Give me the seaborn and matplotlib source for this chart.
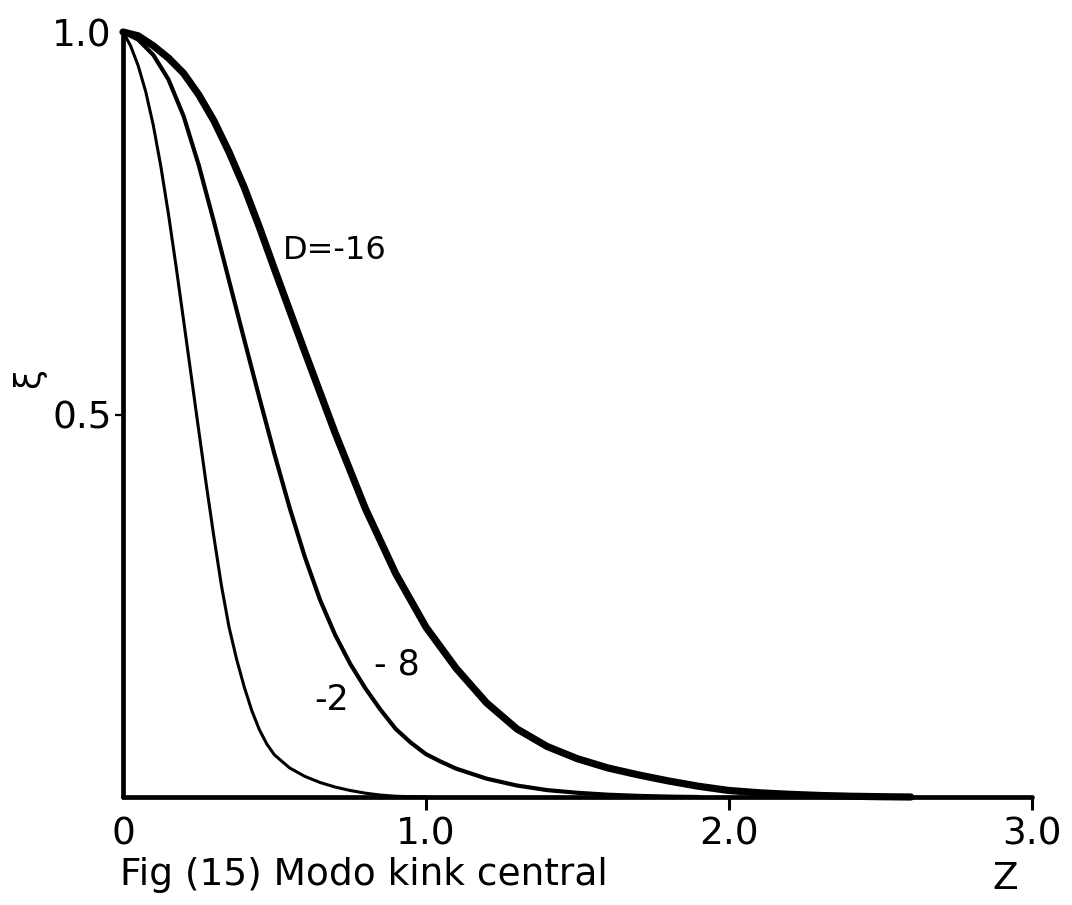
import numpy as np
import pandas as pd
import matplotlib
matplotlib.use("Agg")
import matplotlib.pyplot as plt
import seaborn as sns

# Radial profiles of the central kink mode for three values of D
z_d2 = [0, 0.025, 0.05, 0.075, 0.10, 0.125, 0.15, 0.175, 0.20, 0.225, 0.25, 0.275,
        0.30, 0.325, 0.35, 0.375, 0.40, 0.425, 0.45, 0.475, 0.50, 0.55, 0.60, 0.65,
        0.70, 0.75, 0.80, 0.85, 0.90, 0.95, 1.0]
psi_d2 = [1.0, 0.982, 0.956, 0.922, 0.878, 0.824, 0.762, 0.694, 0.623, 0.551, 0.479, 0.408,
          0.340, 0.276, 0.222, 0.180, 0.144, 0.113, 0.088, 0.069, 0.055, 0.038, 0.027, 0.019,
          0.013, 0.0085, 0.005, 0.0025, 0.001, 0.0003, 0.0]

z_d8 = [0, 0.05, 0.10, 0.15, 0.20, 0.25, 0.30, 0.35, 0.40, 0.45, 0.50, 0.55, 0.60, 0.65,
        0.70, 0.75, 0.80, 0.85, 0.90, 0.95, 1.00, 1.05, 1.10, 1.20, 1.30, 1.40, 1.50,
        1.60, 1.70, 1.80, 1.90]
psi_d8 = [1.0, 0.990, 0.970, 0.938, 0.890, 0.826, 0.752, 0.675, 0.598, 0.522, 0.448, 0.378,
          0.314, 0.258, 0.212, 0.174, 0.142, 0.114, 0.089, 0.071, 0.056, 0.046, 0.037,
          0.024, 0.015, 0.009, 0.0055, 0.003, 0.0015, 0.0005, 0.0]

z_d16 = [0, 0.05, 0.10, 0.15, 0.20, 0.25, 0.30, 0.35, 0.40, 0.45, 0.50, 0.60, 0.70, 0.80,
         0.90, 1.00, 1.10, 1.20, 1.30, 1.40, 1.50, 1.60, 1.70, 1.80, 1.90, 2.00, 2.10,
         2.20, 2.30, 2.40, 2.50, 2.60]
psi_d16 = [1.0, 0.995, 0.982, 0.966, 0.946, 0.918, 0.884, 0.843, 0.797, 0.745, 0.690, 0.582,
           0.476, 0.377, 0.292, 0.222, 0.168, 0.123, 0.089, 0.066, 0.050, 0.038, 0.029,
           0.021, 0.014, 0.0085, 0.0055, 0.0035, 0.002, 0.001, 0.0004, 0.0]

x_ticks = [0, 1, 2, 3]
x_tick_labels = ["0", "1.0", "2.0", "3.0"]
y_ticks = [0.5, 1.0]
y_tick_labels = ["0.5", "1.0"]

curves = [
    ("-2", z_d2, psi_d2, 2.2),
    ("-8", z_d8, psi_d8, 3.0),
    ("-16", z_d16, psi_d16, 5.2),
]

sns.set_theme(style="white")
plt.rcParams["font.family"] = ["DejaVu Sans"]

fig = plt.figure(figsize=(10.72, 9.05), dpi=100)
fig.patch.set_facecolor("white")
ax = fig.add_axes([123 / 1072, 1 - 797 / 905, 909 / 1072, 765 / 905])

for name, zs, ps, lw in curves:
    df = pd.DataFrame({"z": zs, "psi": ps})
    sns.lineplot(data=df, x="z", y="psi", sort=False, estimator=None, color="black",
                 linewidth=lw, ax=ax, clip_on=False, solid_capstyle="round",
                 solid_joinstyle="round")

ax.set_xlim(0, 3.0)
ax.set_ylim(0, 1.0)
ax.set_xlabel("")
ax.set_ylabel("")
ax.set_facecolor("white")

for side in ("top", "right"):
    ax.spines[side].set_visible(False)
for side in ("left", "bottom"):
    ax.spines[side].set_linewidth(3.4)
    ax.spines[side].set_color("black")
    ax.spines[side].set_capstyle("round")

ax.set_xticks(x_ticks)
ax.set_xticklabels(x_tick_labels)
ax.set_yticks(y_ticks)
ax.set_yticklabels(y_tick_labels)
ax.tick_params(axis="x", direction="out", length=9, width=2.2, pad=5,
               labelsize=27, colors="black", bottom=True)
ax.tick_params(axis="y", direction="out", length=6, width=1.6, pad=2,
               labelsize=27, colors="black", left=True)
ax.xaxis.get_major_ticks()[0].tick1line.set_visible(False)
ax.yaxis.get_major_ticks()[1].tick1line.set_visible(False)

# curve annotations
ax.text(0.528, 0.715, "D=-16", ha="left", va="center", fontsize=23, color="black")
ax.text(0.904, 0.173, "- 8", ha="center", va="center", fontsize=25, color="black")
ax.text(0.687, 0.127, "-2", ha="center", va="center", fontsize=25, color="black")

# axis names
ax.text(2.911, -0.084, "Z", transform=ax.get_xaxis_transform(), ha="center", va="top",
        fontsize=27, color="black")
ax.text(-0.103, 0.548, "ξ", transform=ax.transAxes, rotation=90, ha="center",
        va="center", fontsize=26, color="black")

fig.text(120 / 1072, 1 - 857 / 905, "Fig (15) Modo kink central", ha="left",
         va="top", fontsize=27, color="black")

fig.savefig("out.png", dpi=100, facecolor="white")
